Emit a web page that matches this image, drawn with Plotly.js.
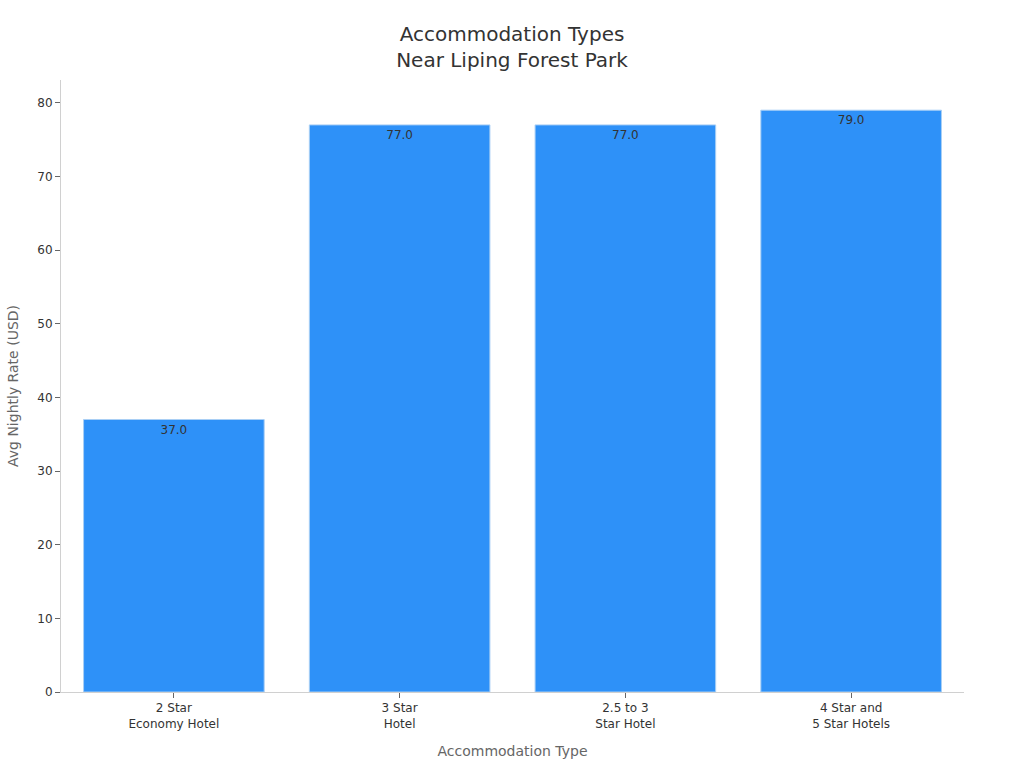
<!DOCTYPE html>
<html>
<head>
<meta charset="utf-8">
<script src="https://cdn.plot.ly/plotly-3.0.1.min.js"></script>
<style>
  html, body { margin: 0; padding: 0; background: #fff; }
  #chart { width: 1024px; height: 768px; }
</style>
</head>
<body>
<div id="chart"></div>
<script>
'use strict';

// Chart data
let categories = ['2 Star<br>Economy Hotel', '3 Star<br>Hotel', '2.5 to 3<br>Star Hotel', '4 Star and<br>5 Star Hotels'];
let rates = [37, 77, 77, 79];
let labels = rates.map(v => v.toFixed(1));

let trace = {
    x: categories,
    y: rates,
    type: 'bar',
    text: labels,
    textposition: 'inside',
    insidetextanchor: 'end',
    textangle: 0,
    textfont: { color: '#333333', size: 12 },
    marker: {
        color: '#2E91F8',
        line: { color: '#A9CFF5', width: 1 }
    },
    width: 0.8,
    hoverinfo: 'none'
};

let axisFont = { family: 'DejaVu Sans, sans-serif', size: 12, color: '#333333' };

let layout = {
    width: 1024,
    height: 768,
    margin: { l: 61, r: 60, t: 80, b: 76 },
    paper_bgcolor: '#ffffff',
    plot_bgcolor: '#ffffff',
    font: { family: 'DejaVu Sans, sans-serif', color: '#333333' },
    title: {
        text: 'Accommodation Types<br>Near Liping Forest Park',
        font: { family: 'DejaVu Sans, sans-serif', size: 20, color: '#333333' },
        x: 0.5,
        xanchor: 'center',
        y: 0.947,
        yanchor: 'top'
    },
    xaxis: {
        title: {
            text: 'Accommodation Type',
            font: { family: 'DejaVu Sans, sans-serif', size: 14, color: '#666666' },
            standoff: 16
        },
        tickfont: axisFont,
        showline: true,
        linecolor: '#d0d0d0',
        ticks: 'outside',
        ticklen: 5,
        tickcolor: '#666666',
        showgrid: false
    },
    yaxis: {
        title: {
            text: 'Avg Nightly Rate (USD)',
            font: { family: 'DejaVu Sans, sans-serif', size: 14, color: '#666666' },
            standoff: 15
        },
        range: [0, 83.1],
        dtick: 10,
        tickfont: axisFont,
        showline: true,
        linecolor: '#d0d0d0',
        ticks: 'outside',
        ticklen: 5,
        tickcolor: '#666666',
        showgrid: false,
        zeroline: false
    },
    showlegend: false
};

let config = { displayModeBar: false, staticPlot: true };

Plotly.newPlot('chart', [trace], layout, config);
</script>
</body>
</html>
